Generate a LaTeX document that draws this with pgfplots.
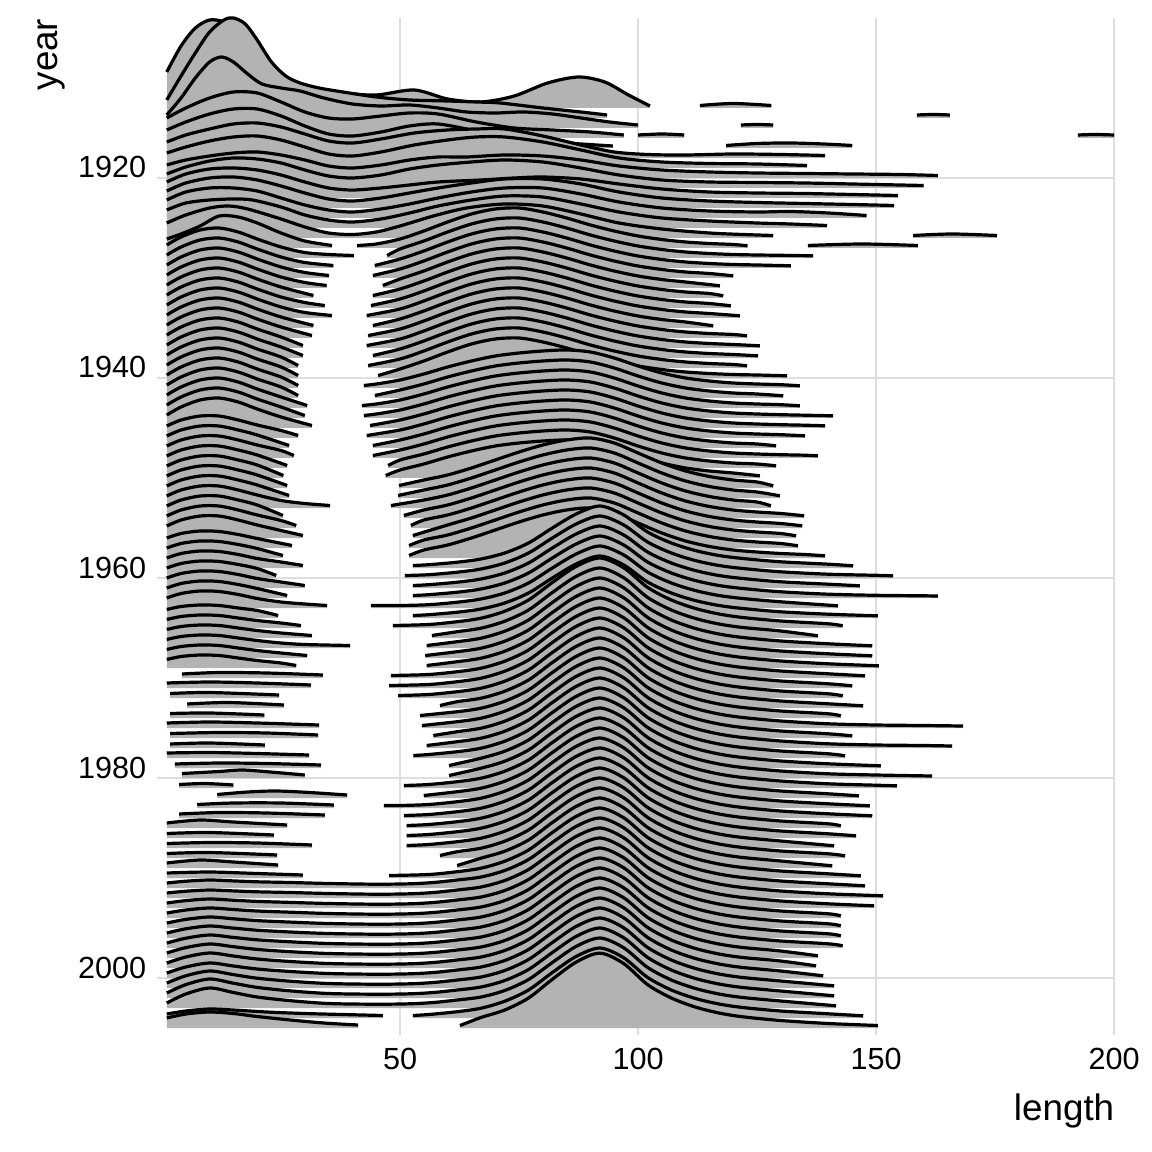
\documentclass[border=0pt]{standalone}
\usepackage{fontspec}
\setmainfont{Liberation Sans}
\usepackage{pgfplots}
\pgfplotsset{compat=1.18}
\definecolor{ridgegray}{HTML}{B3B3B3}
\definecolor{gridgray}{HTML}{DEDEDE}
% #1 = year (baseline), #2 = first length, #3 = last length, #4 = (length, height) pairs
\newcommand{\R}[4]{%
 \addplot[fill=ridgegray, draw=none, smooth, y filter/.expression={#1-y}] coordinates {#4} -- (axis cs:#3,#1) -- (axis cs:#2,#1) -- cycle;
 \addplot[black, line width=0.8pt, smooth, y filter/.expression={#1-y}] coordinates {#4};
}
\begin{document}
\begin{tikzpicture}
\begin{axis}[
  scale only axis, width=239.5pt, height=254.25pt,
  xmin=-1.05, xmax=200.2, ymin=1904, ymax=2005.7, y dir=reverse,
  clip=false,
  axis line style={draw=none},
  major tick length=0pt,
  xtick={50,100,150,200}, ytick={1920,1940,1960,1980,2000},
  xmajorgrids, ymajorgrids,
  major grid style={gridgray, line width=0.65pt},
  tick label style={font=\fontsize{7.65}{9}\selectfont},
  xticklabel style={anchor=north, inner sep=0pt, yshift=-3pt},
  yticklabel style={anchor=base east, inner sep=0pt, xshift=-2.5pt},
  /pgf/number format/assume math mode=true,
  /pgf/number format/1000 sep={},
  xlabel={length}, ylabel={year},
  every axis x label/.style={at={(axis description cs:1,0)}, anchor=north east, inner sep=0pt, yshift=-14.5pt, font=\fontsize{9.2}{11}\selectfont},
  every axis y label/.style={at={([xshift=-24.75pt]axis description cs:0,1)}, rotate=90, anchor=base east, inner sep=0pt, font=\fontsize{9.2}{11}\selectfont},
]
% ---------------- early years ----------------
\R{1913}{1}{102.5}{(1,3.6)(4,6.2)(7,8.0)(10,8.8)(13,8.6)(16,7.6)(19,6.0)(22,4.2)(25,2.8)(28,2.2)(32,1.9)(38,1.5)(45,1.3)(53,1.8)(60,0.9)(67,0.6)(74,1.2)(81,2.5)(87.5,3.1)(93,2.6)(98,1.3)(102.5,0.2)}
\R{1913}{113}{128}{(113,0.25)(120,0.45)(128,0.25)}
\R{1914}{1}{93.5}{(1,1.8)(4,4.2)(7,6.5)(10,8.6)(13,9.8)(15,10)(17.5,9.4)(20,7.8)(23,5.6)(26,4.2)(29,3.5)(33,3.0)(38,2.6)(45,2.1)(52,1.8)(60,1.7)(66,1.6)(71,1.5)(80,1.0)(88,0.6)(93.5,0.3)}
\R{1914}{158.6}{165.5}{(158.6,0.3)(162,0.35)(165.5,0.3)}
\R{1915}{1}{100}{(1,1.3)(4,3.0)(7,5.0)(10,6.6)(12.5,7.1)(15,6.6)(18,5.4)(21,4.4)(25,4.0)(29,3.7)(34,3.0)(40,2.4)(46,2.2)(52,2.3)(58,2.0)(64,1.6)(70,1.5)(76,1.6)(82,1.4)(88,1.0)(94,0.6)(100,0.3)}
\R{1915}{121.6}{128.4}{(121.6,0.3)(125,0.35)(128.4,0.3)}
\R{1916}{1}{97}{(1,2.0)(5,3.0)(10,4.0)(15,4.6)(20,4.5)(25,3.6)(30,2.6)(35,2.0)(40,1.9)(46,2.2)(52,2.5)(58,2.4)(66,1.6)(74,1.0)(82,0.8)(90,0.6)(97,0.3)}
\R{1916}{100}{109.7}{(100,0.3)(105,0.4)(109.7,0.3)}
\R{1916}{192.4}{200}{(192.4,0.3)(196,0.35)(200,0.3)}
\R{1917}{1}{94.7}{(1,1.8)(5,2.6)(10,3.4)(15,3.9)(20,3.9)(25,3.2)(30,2.2)(35,1.4)(40,1.2)(46,1.6)(52,2.2)(58,2.4)(66,1.7)(74,0.9)(82,0.6)(88,0.4)(94.7,0.2)}
\R{1917}{118.5}{145}{(118.5,0.25)(125,0.45)(132,0.5)(139,0.4)(145,0.25)}
\R{1918}{1}{139.3}{(1,1.6)(5,2.3)(10,2.9)(15,3.4)(20,3.5)(25,3.1)(30,2.4)(35,1.7)(40,1.5)(46,1.9)(53,2.5)(60,2.8)(66,2.9)(72,2.9)(80,2.2)(88,1.3)(95,0.6)(102,0.35)(110,0.3)(120,0.4)(130,0.35)(139.3,0.25)}
\R{1919}{1}{135.5}{(1,1.5)(5,2.1)(10,2.7)(15,3.1)(20,3.2)(25,2.8)(30,2.1)(35,1.4)(40,1.2)(46,1.6)(53,2.3)(60,2.8)(66,3.1)(72,3.1)(80,2.6)(88,1.8)(96,1.0)(105,0.6)(115,0.45)(125,0.4)(135.5,0.25)}
\R{1920}{1}{163}{(1,1.3)(5,1.8)(10,2.2)(15,2.5)(20,2.6)(25,2.3)(30,1.8)(35,1.2)(40,1.0)(46,1.3)(52,1.8)(58,2.1)(64,2.1)(72,2.3)(80,2.2)(88,1.8)(96,1.2)(105,0.8)(115,0.6)(125,0.5)(135,0.45)(145,0.4)(155,0.35)(163,0.25)}
\R{1921}{1}{160}{(1,1.4)(5,2.1)(10,2.7)(15,3.0)(20,2.9)(25,2.5)(30,1.8)(35,1.2)(40,1.0)(46,1.3)(52,1.9)(58,2.3)(65,2.6)(72,2.8)(80,2.6)(88,2.0)(96,1.3)(105,0.8)(115,0.6)(125,0.55)(135,0.5)(145,0.4)(160,0.25)}
\R{1922}{1}{154.6}{(1,1.6)(5,2.4)(10,2.9)(15,3.0)(20,2.8)(25,2.3)(30,1.6)(35,1.0)(40,0.8)(46,1.0)(52,1.3)(58,1.6)(67,1.8)(74,2.0)(80,2.1)(88,1.9)(96,1.4)(105,0.9)(115,0.6)(125,0.5)(135,0.45)(145,0.35)(154.6,0.25)}
\R{1923}{1}{153.8}{(1,1.7)(5,2.5)(10,3.0)(15,3.1)(20,2.8)(25,2.2)(30,1.5)(35,0.9)(40,0.7)(46,1.0)(52,1.5)(58,2.0)(65,2.5)(72,2.9)(80,2.9)(88,2.4)(96,1.6)(105,1.0)(115,0.7)(125,0.55)(135,0.45)(145,0.35)(153.8,0.25)}
\R{1924}{1}{148}{(1,1.8)(5,2.6)(10,3.0)(15,3.0)(20,2.7)(25,2.0)(30,1.3)(35,0.8)(40,0.6)(46,0.9)(52,1.4)(58,2.0)(65,2.6)(72,3.0)(80,3.0)(88,2.4)(96,1.6)(105,1.0)(115,0.7)(125,0.6)(132,0.65)(140,0.5)(148,0.25)}
\R{1925}{1}{139.7}{(1,1.8)(5,2.5)(10,2.8)(15,2.9)(19,2.8)(25,2.1)(30,1.3)(35,0.8)(40,0.6)(46,0.9)(52,1.5)(58,2.2)(65,2.8)(72,3.2)(80,3.1)(88,2.4)(96,1.6)(105,1.0)(115,0.7)(125,0.5)(132,0.4)(139.7,0.25)}
\R{1926}{1}{128.4}{(1,1.5)(5,2.3)(10,3.0)(14,3.2)(18,2.9)(25,1.9)(30,1.1)(35,0.5)(40,0.35)(45,0.6)(50,1.2)(57,2.2)(64,3.0)(72,3.4)(80,3.2)(88,2.4)(96,1.5)(105,0.9)(115,0.5)(122,0.35)(128.4,0.25)}
\R{1926}{157.8}{175.4}{(157.8,0.25)(166,0.4)(175.4,0.25)}
% ---------------- 1927-1945 ----------------
\R{1927}{1}{35.7}{(1,0.9)(4,1.4)(8,2.2)(12,3.2)(16,3.1)(20,2.5)(25,1.5)(30,0.7)(35.7,0.25)}
\R{1927}{41}{123}{(41,0.25)(45,0.4)(50,0.9)(55,1.7)(60,2.6)(65,3.4)(70,3.9)(75,4.0)(80,3.6)(85,3.0)(90,2.3)(95,1.7)(100,1.2)(105,0.85)(110,0.6)(115,0.45)(120,0.35)(123,0.22)}
\R{1927}{135.7}{158.8}{(135.7,0.25)(147,0.4)(158.8,0.25)}
\R{1928}{1}{40.3}{(1,1.3)(4,2.1)(8,2.8)(12,3.0)(16,2.6)(20,1.9)(25,1.1)(30,0.55)(35,0.35)(40.3,0.25)}
\R{1928}{47.3}{136.8}{(47.3,0.25)(50,0.9)(55,1.7)(60,2.6)(65,3.4)(70,3.9)(75,4.0)(80,3.6)(85,3.0)(90,2.3)(95,1.7)(100,1.2)(105,0.85)(110,0.6)(115,0.45)(120,0.35)(125,0.3)(130,0.27)(136.8,0.22)}
\R{1929}{1}{36}{(1,1.3)(4,2.1)(8,2.8)(12,3.0)(16,2.6)(20,1.9)(25,1.1)(30,0.55)(36,0.25)}
\R{1929}{44.7}{132.1}{(44.7,0.25)(50,0.9)(55,1.7)(60,2.6)(65,3.4)(70,3.9)(75,4.0)(80,3.6)(85,3.0)(90,2.3)(95,1.7)(100,1.2)(105,0.85)(110,0.6)(115,0.45)(120,0.35)(125,0.3)(132.1,0.22)}
\R{1930}{1}{35.1}{(1,1.3)(4,2.1)(8,2.8)(12,3.0)(16,2.6)(20,1.9)(25,1.1)(30,0.55)(35.1,0.25)}
\R{1930}{44.3}{120}{(44.3,0.25)(50,0.9)(55,1.7)(60,2.6)(65,3.4)(70,3.9)(75,4.0)(80,3.6)(85,3.0)(90,2.3)(95,1.7)(100,1.2)(105,0.85)(110,0.6)(115,0.45)(120,0.22)}
\R{1931}{1}{34.6}{(1,1.3)(4,2.1)(8,2.8)(12,3.0)(16,2.6)(20,1.9)(25,1.1)(30,0.55)(34.6,0.25)}
\R{1931}{46.4}{117.2}{(46.4,0.25)(50,0.9)(55,1.7)(60,2.6)(65,3.4)(70,3.9)(75,4.0)(80,3.6)(85,3.0)(90,2.3)(95,1.7)(100,1.2)(105,0.85)(110,0.6)(117.2,0.22)}
\R{1932}{1}{31.8}{(1,1.3)(4,2.1)(8,2.8)(12,3.0)(16,2.6)(20,1.9)(25,1.1)(31.8,0.25)}
\R{1932}{44.3}{117.9}{(44.3,0.25)(50,0.9)(55,1.7)(60,2.6)(65,3.4)(70,3.9)(75,4.0)(80,3.6)(85,3.0)(90,2.3)(95,1.7)(100,1.2)(105,0.85)(110,0.6)(115,0.45)(117.9,0.22)}
\R{1933}{1}{34.2}{(1,1.3)(4,2.1)(8,2.8)(12,3.0)(16,2.6)(20,1.9)(25,1.1)(30,0.55)(34.2,0.25)}
\R{1933}{43.9}{119.5}{(43.9,0.25)(50,0.9)(55,1.7)(60,2.6)(65,3.4)(70,3.9)(75,4.0)(80,3.6)(85,3.0)(90,2.3)(95,1.7)(100,1.2)(105,0.85)(110,0.6)(115,0.45)(119.5,0.22)}
\R{1934}{1}{35.7}{(1,1.3)(4,2.1)(8,2.8)(12,3.0)(16,2.6)(20,1.9)(25,1.1)(30,0.55)(35.7,0.25)}
\R{1934}{43}{121.4}{(43,0.25)(50,0.9)(55,1.7)(60,2.6)(65,3.4)(70,3.9)(75,4.0)(80,3.6)(85,3.0)(90,2.3)(95,1.7)(100,1.2)(105,0.85)(110,0.6)(115,0.45)(121.4,0.22)}
\R{1935}{1}{31.8}{(1,1.3)(4,2.1)(8,2.8)(12,3.0)(16,2.6)(20,1.9)(25,1.1)(31.8,0.25)}
\R{1935}{44.3}{115.8}{(44.3,0.25)(50,0.9)(55,1.7)(60,2.6)(65,3.4)(70,3.9)(75,4.0)(80,3.6)(85,3.0)(90,2.3)(95,1.7)(100,1.2)(105,0.85)(110,0.6)(115.8,0.22)}
\R{1936}{1}{31.5}{(1,1.3)(4,2.1)(8,2.8)(12,3.0)(16,2.6)(20,1.9)(25,1.1)(31.5,0.25)}
\R{1936}{43.3}{122.9}{(43.3,0.25)(50,0.9)(55,1.7)(60,2.6)(65,3.4)(70,3.9)(75,4.0)(80,3.6)(85,3.0)(90,2.3)(95,1.7)(100,1.2)(105,0.85)(110,0.6)(115,0.45)(120,0.35)(122.9,0.22)}
\R{1937}{1}{29.6}{(1,1.3)(4,2.1)(8,2.8)(12,3.0)(16,2.6)(20,1.9)(25,1.1)(29.6,0.25)}
\R{1937}{43}{125.6}{(43,0.25)(50,0.9)(55,1.7)(60,2.6)(65,3.4)(70,3.9)(75,4.0)(80,3.6)(85,3.0)(90,2.3)(95,1.7)(100,1.2)(105,0.85)(110,0.6)(115,0.45)(120,0.35)(125.6,0.22)}
\R{1938}{1}{29.6}{(1,1.3)(4,2.1)(8,2.8)(12,3.0)(16,2.6)(20,1.9)(25,1.1)(29.6,0.25)}
\R{1938}{44.3}{125.2}{(44.3,0.25)(50,0.9)(55,1.7)(60,2.6)(65,3.4)(70,3.9)(75,4.0)(80,3.6)(85,3.0)(90,2.3)(95,1.7)(100,1.2)(105,0.85)(110,0.6)(115,0.45)(120,0.35)(125.2,0.22)}
\R{1939}{1}{28.6}{(1,1.3)(4,2.1)(8,2.8)(12,3.0)(16,2.6)(20,1.9)(25,1.1)(28.6,0.25)}
\R{1939}{43.3}{122.9}{(43.3,0.25)(50,0.9)(55,1.7)(60,2.6)(65,3.4)(70,3.9)(75,4.0)(80,3.6)(85,3.0)(90,2.3)(95,1.7)(100,1.2)(105,0.85)(110,0.6)(115,0.45)(120,0.35)(122.9,0.22)}
\R{1940}{1}{28.6}{(1,1.3)(4,2.1)(8,2.8)(12,3.0)(16,2.6)(20,1.9)(25,1.1)(28.6,0.25)}
\R{1940}{45.4}{131.3}{(45.4,0.25)(50,0.9)(55,1.7)(60,2.6)(65,3.4)(70,3.9)(75,4.0)(80,3.6)(85,3.0)(90,2.3)(95,1.7)(100,1.2)(105,0.85)(110,0.6)(115,0.45)(120,0.35)(125,0.3)(131.3,0.22)}
\R{1941}{1}{28.6}{(1,1.3)(4,2.1)(8,2.8)(12,3.0)(16,2.6)(20,1.9)(25,1.1)(28.6,0.25)}
\R{1941}{42.4}{134}{(42.4,0.25)(45,0.4)(50,0.8)(55,1.4)(60,2.1)(65,2.7)(70,3.2)(75,3.5)(80,3.7)(85,3.8)(90,3.6)(95,3.0)(100,2.2)(105,1.5)(110,1.0)(115,0.7)(120,0.5)(125,0.4)(130,0.33)(134,0.22)}
\R{1942}{1}{28.6}{(1,1.3)(4,2.1)(8,2.8)(12,3.0)(16,2.6)(20,1.9)(25,1.1)(28.6,0.25)}
\R{1942}{44.7}{130.5}{(44.7,0.25)(50,0.8)(55,1.4)(60,2.1)(65,2.7)(70,3.2)(75,3.5)(80,3.7)(85,3.8)(90,3.6)(95,3.0)(100,2.2)(105,1.5)(110,1.0)(115,0.7)(120,0.5)(125,0.4)(130.5,0.22)}
\R{1943}{1}{30.5}{(1,1.3)(4,2.1)(8,2.8)(12,3.0)(16,2.6)(20,1.9)(25,1.1)(30.5,0.25)}
\R{1943}{42}{134}{(42,0.25)(45,0.4)(50,0.8)(55,1.4)(60,2.1)(65,2.7)(70,3.2)(75,3.5)(80,3.7)(85,3.8)(90,3.6)(95,3.0)(100,2.2)(105,1.5)(110,1.0)(115,0.7)(120,0.5)(125,0.4)(130,0.33)(134,0.22)}
\R{1944}{1}{30}{(1,1.3)(4,2.1)(8,2.8)(12,3.0)(16,2.6)(20,1.9)(25,1.1)(30,0.25)}
\R{1944}{42.4}{141}{(42.4,0.25)(45,0.4)(50,0.8)(55,1.4)(60,2.1)(65,2.7)(70,3.2)(75,3.5)(80,3.7)(85,3.8)(90,3.6)(95,3.0)(100,2.2)(105,1.5)(110,1.0)(115,0.7)(120,0.5)(125,0.4)(130,0.33)(135,0.28)(141,0.22)}
\R{1945}{1}{31.5}{(1,1.3)(4,2.1)(8,2.8)(12,3.0)(16,2.6)(20,1.9)(25,1.1)(31.5,0.25)}
\R{1945}{43.7}{139.3}{(43.7,0.25)(50,0.8)(55,1.4)(60,2.1)(65,2.7)(70,3.2)(75,3.5)(80,3.7)(85,3.8)(90,3.6)(95,3.0)(100,2.2)(105,1.5)(110,1.0)(115,0.7)(120,0.5)(125,0.4)(130,0.33)(135,0.28)(139.3,0.22)}
% ---------------- 1946-1958 ----------------
\R{1946}{1}{28.6}{(1,1.2)(4,1.8)(8,2.2)(12,2.2)(16,1.8)(20,1.3)(25,0.75)(28.6,0.25)}
\R{1946}{43}{135.1}{(43,0.25)(50,0.8)(55,1.4)(60,2.1)(65,2.7)(70,3.2)(75,3.5)(80,3.7)(85,3.8)(90,3.6)(95,3.0)(100,2.2)(105,1.5)(110,1.0)(115,0.7)(120,0.5)(125,0.4)(130,0.33)(135.1,0.22)}
\R{1947}{1}{26.7}{(1,1.2)(4,1.8)(8,2.2)(12,2.2)(16,1.8)(20,1.3)(26.7,0.25)}
\R{1947}{44.3}{129}{(44.3,0.25)(50,0.8)(55,1.4)(60,2.1)(65,2.7)(70,3.2)(75,3.5)(80,3.7)(85,3.8)(90,3.6)(95,3.0)(100,2.2)(105,1.5)(110,1.0)(115,0.7)(120,0.5)(125,0.4)(129,0.22)}
\R{1948}{1}{27.7}{(1,1.2)(4,1.8)(8,2.2)(12,2.2)(16,1.8)(20,1.3)(25,0.75)(27.7,0.25)}
\R{1948}{44.3}{137.8}{(44.3,0.25)(50,0.8)(55,1.4)(60,2.1)(65,2.7)(70,3.2)(75,3.5)(80,3.7)(85,3.8)(90,3.6)(95,3.0)(100,2.2)(105,1.5)(110,1.0)(115,0.7)(120,0.5)(125,0.4)(130,0.33)(135,0.28)(137.8,0.22)}
\R{1949}{1}{26.3}{(1,1.2)(4,1.8)(8,2.2)(12,2.2)(16,1.8)(20,1.3)(26.3,0.25)}
\R{1949}{47.5}{129}{(47.5,0.25)(50,0.8)(55,1.4)(60,2.1)(65,2.7)(70,3.2)(75,3.5)(80,3.7)(85,3.8)(90,3.6)(95,3.0)(100,2.2)(105,1.5)(110,1.0)(115,0.7)(120,0.5)(125,0.4)(129,0.22)}
\R{1950}{1}{25.5}{(1,1.2)(4,1.8)(8,2.2)(12,2.2)(16,1.8)(20,1.3)(25.5,0.25)}
\R{1950}{47}{125.6}{(47,0.25)(50,0.8)(55,1.4)(60,2.1)(65,2.7)(70,3.2)(75,3.5)(80,3.7)(85,3.8)(90,3.6)(95,3.0)(100,2.2)(105,1.5)(110,1.0)(115,0.7)(120,0.5)(125.6,0.22)}
\R{1951}{1}{26.3}{(1,1.2)(4,1.8)(8,2.2)(12,2.2)(16,1.8)(20,1.3)(26.3,0.25)}
\R{1951}{49.8}{128.4}{(49.8,0.25)(55,0.8)(60,1.3)(65,2.0)(70,2.8)(75,3.6)(80,4.3)(85,4.8)(90,5.0)(95,4.5)(100,3.5)(105,2.5)(110,1.7)(115,1.15)(120,0.8)(125,0.6)(128.4,0.22)}
\R{1952}{1}{26.7}{(1,1.2)(4,1.8)(8,2.2)(12,2.2)(16,1.8)(20,1.3)(26.7,0.25)}
\R{1952}{49.6}{129.8}{(49.6,0.25)(55,0.8)(60,1.3)(65,2.0)(70,2.8)(75,3.6)(80,4.3)(85,4.8)(90,5.0)(95,4.5)(100,3.5)(105,2.5)(110,1.7)(115,1.15)(120,0.8)(125,0.6)(129.8,0.22)}
\R{1953}{1}{35.3}{(1,1.2)(4,1.8)(8,2.2)(12,2.2)(16,1.8)(20,1.3)(25,0.75)(30,0.45)(35.3,0.25)}
\R{1953}{48.1}{127.9}{(48.1,0.25)(55,0.8)(60,1.3)(65,2.0)(70,2.8)(75,3.6)(80,4.3)(85,4.8)(90,5.0)(95,4.5)(100,3.5)(105,2.5)(110,1.7)(115,1.15)(120,0.8)(125,0.6)(127.9,0.22)}
\R{1954}{1}{25.4}{(1,1.2)(4,1.8)(8,2.2)(12,2.2)(16,1.8)(20,1.3)(25.4,0.25)}
\R{1954}{50.8}{134.9}{(50.8,0.25)(55,0.8)(60,1.3)(65,2.0)(70,2.8)(75,3.6)(80,4.3)(85,4.8)(90,5.0)(95,4.5)(100,3.5)(105,2.5)(110,1.7)(115,1.15)(120,0.8)(125,0.6)(130,0.45)(134.9,0.22)}
\R{1955}{1}{28.2}{(1,1.2)(4,1.8)(8,2.2)(12,2.2)(16,1.8)(20,1.3)(25,0.75)(28.2,0.25)}
\R{1955}{52.3}{134.5}{(52.3,0.25)(55,0.8)(60,1.3)(65,2.0)(70,2.8)(75,3.6)(80,4.3)(85,4.8)(90,5.0)(95,4.5)(100,3.5)(105,2.5)(110,1.7)(115,1.15)(120,0.8)(125,0.6)(130,0.45)(134.5,0.22)}
\R{1956}{1}{29.6}{(1,1.2)(4,1.8)(8,2.2)(12,2.2)(16,1.8)(20,1.3)(25,0.75)(29.6,0.25)}
\R{1956}{52.7}{133.2}{(52.7,0.25)(60,1.3)(65,2.0)(70,2.8)(75,3.6)(80,4.3)(85,4.8)(90,5.0)(95,4.5)(100,3.5)(105,2.5)(110,1.7)(115,1.15)(120,0.8)(125,0.6)(130,0.45)(133.2,0.22)}
\R{1957}{1}{27.3}{(1,1.0)(4,1.45)(8,1.7)(12,1.65)(16,1.35)(20,0.95)(27.3,0.25)}
\R{1957}{51.9}{133.6}{(51.9,0.25)(55,0.8)(60,1.3)(65,2.0)(70,2.8)(75,3.6)(80,4.3)(85,4.8)(90,5.0)(95,4.5)(100,3.5)(105,2.5)(110,1.7)(115,1.15)(120,0.8)(125,0.6)(130,0.45)(133.6,0.22)}
\R{1958}{1}{25.4}{(1,1.0)(4,1.45)(8,1.7)(12,1.65)(16,1.35)(20,0.95)(25.4,0.25)}
\R{1958}{51.9}{139.3}{(51.9,0.25)(55,0.8)(60,1.3)(65,2.0)(70,2.8)(75,3.6)(80,4.3)(85,4.8)(90,5.0)(95,4.5)(100,3.5)(105,2.5)(110,1.7)(115,1.15)(120,0.8)(125,0.6)(130,0.45)(135,0.35)(139.3,0.22)}
% ---------------- 1959-1969 ----------------
\R{1959}{1}{29.6}{(1,1.0)(4,1.45)(8,1.7)(12,1.65)(16,1.35)(20,0.95)(25,0.6)(29.6,0.25)}
\R{1959}{52.7}{145.2}{(52.7,0.25)(56,0.33)(62,0.58)(67,0.9)(72,1.5)(77,2.5)(82,4.0)(87,5.4)(92,6.2)(97,5.3)(102,3.6)(107,2.5)(112,1.75)(117,1.25)(122,0.95)(130,0.62)(140,0.38)(145.2,0.22)}
\R{1960}{1}{24}{(1,1.0)(4,1.45)(8,1.7)(12,1.65)(16,1.35)(20,0.95)(24,0.25)}
\R{1960}{51}{153.6}{(51,0.25)(56,0.33)(62,0.58)(67,0.9)(72,1.5)(77,2.5)(82,4.0)(87,5.4)(92,6.2)(97,5.3)(102,3.6)(107,2.5)(112,1.75)(117,1.25)(122,0.95)(130,0.62)(140,0.38)(150,0.27)(153.6,0.22)}
\R{1961}{1}{30}{(1,1.0)(4,1.45)(8,1.7)(12,1.65)(16,1.35)(20,0.95)(25,0.6)(30,0.25)}
\R{1961}{52.7}{146.6}{(52.7,0.25)(56,0.33)(62,0.58)(67,0.9)(72,1.5)(77,2.5)(82,4.0)(87,5.4)(92,6.2)(97,5.3)(102,3.6)(107,2.5)(112,1.75)(117,1.25)(122,0.95)(130,0.62)(140,0.38)(146.6,0.22)}
\R{1962}{1}{26.3}{(1,1.0)(4,1.45)(8,1.7)(12,1.65)(16,1.35)(20,0.95)(26.3,0.25)}
\R{1962}{52.7}{163}{(52.7,0.25)(56,0.33)(62,0.58)(67,0.9)(72,1.5)(77,2.5)(82,4.0)(87,5.4)(92,6.2)(97,5.3)(102,3.6)(107,2.5)(112,1.75)(117,1.25)(122,0.95)(130,0.62)(140,0.38)(150,0.27)(160,0.22)(163,0.2)}
\R{1963}{1}{34.7}{(1,1.0)(4,1.45)(8,1.7)(12,1.65)(16,1.35)(20,0.95)(25,0.6)(30,0.4)(34.7,0.25)}
\R{1963}{43.9}{142}{(43.9,0.25)(50,0.25)(56,0.33)(62,0.58)(67,0.9)(72,1.5)(77,2.5)(82,4.0)(87,5.4)(92,6.2)(97,5.3)(102,3.6)(107,2.5)(112,1.75)(117,1.25)(122,0.95)(130,0.62)(142,0.22)}
\R{1964}{1}{24.4}{(1,0.85)(4,1.15)(8,1.3)(12,1.25)(16,1.0)(20,0.75)(24.4,0.25)}
\R{1964}{52.7}{150.4}{(52.7,0.25)(56,0.33)(62,0.58)(67,0.9)(72,1.5)(77,2.5)(82,4.0)(87,5.4)(92,6.2)(97,5.3)(102,3.6)(107,2.5)(112,1.75)(117,1.25)(122,0.95)(130,0.62)(140,0.38)(150.4,0.22)}
\R{1965}{1}{29.2}{(1,0.85)(4,1.15)(8,1.3)(12,1.25)(16,1.0)(20,0.75)(25,0.5)(29.2,0.25)}
\R{1965}{48.5}{143}{(48.5,0.25)(56,0.35)(62,0.63)(67,0.98)(72,1.68)(77,2.8)(82,4.55)(87,6.16)(92,7.0)(97,6.02)(102,4.06)(107,2.8)(112,1.96)(117,1.4)(122,1.05)(130,0.7)(140,0.42)(143,0.22)}
\R{1966}{1}{31.5}{(1,0.85)(4,1.15)(8,1.3)(12,1.25)(16,1.0)(20,0.75)(25,0.5)(31.5,0.25)}
\R{1966}{56.7}{137.8}{(56.7,0.25)(62,0.63)(67,0.98)(72,1.68)(77,2.8)(82,4.55)(87,6.16)(92,7.0)(97,6.02)(102,4.06)(107,2.8)(112,1.96)(117,1.4)(122,1.05)(130,0.7)(137.8,0.22)}
\R{1967}{1}{39.5}{(1,0.85)(4,1.15)(8,1.3)(12,1.25)(16,1.0)(20,0.75)(25,0.5)(30,0.35)(39.5,0.25)}
\R{1967}{55.6}{149.2}{(55.6,0.25)(62,0.63)(67,0.98)(72,1.68)(77,2.8)(82,4.55)(87,6.16)(92,7.0)(97,6.02)(102,4.06)(107,2.8)(112,1.96)(117,1.4)(122,1.05)(130,0.7)(140,0.42)(149.2,0.22)}
\R{1968}{1}{30.5}{(1,0.85)(4,1.15)(8,1.3)(12,1.25)(16,1.0)(20,0.75)(25,0.5)(30.5,0.25)}
\R{1968}{55.3}{149.2}{(55.3,0.25)(62,0.63)(67,0.98)(72,1.68)(77,2.8)(82,4.55)(87,6.16)(92,7.0)(97,6.02)(102,4.06)(107,2.8)(112,1.96)(117,1.4)(122,1.05)(130,0.7)(140,0.42)(149.2,0.22)}
\R{1969}{1}{28.2}{(1,0.85)(4,1.15)(8,1.3)(12,1.25)(16,1.0)(20,0.75)(25,0.5)(28.2,0.25)}
\R{1969}{55.6}{150.6}{(55.6,0.25)(62,0.63)(67,0.98)(72,1.68)(77,2.8)(82,4.55)(87,6.16)(92,7.0)(97,6.02)(102,4.06)(107,2.8)(112,1.96)(117,1.4)(122,1.05)(130,0.7)(140,0.42)(150.6,0.22)}
% ---------------- 1970-1990 ----------------
\R{1970}{4.2}{33.8}{(4.2,0.4)(12,0.55)(22,0.5)(33.8,0.3)}
\R{1970}{48.1}{147.7}{(48.1,0.25)(56,0.35)(62,0.63)(67,0.98)(72,1.68)(77,2.8)(82,4.55)(87,6.16)(92,7.0)(97,6.02)(102,4.06)(107,2.8)(112,1.96)(117,1.4)(122,1.05)(130,0.7)(140,0.42)(147.7,0.22)}
\R{1971}{1}{31.3}{(1,0.5)(10,0.6)(20,0.5)(31.3,0.3)}
\R{1971}{47.7}{145}{(47.7,0.25)(56,0.35)(62,0.63)(67,0.98)(72,1.68)(77,2.8)(82,4.55)(87,6.16)(92,7.0)(97,6.02)(102,4.06)(107,2.8)(112,1.96)(117,1.4)(122,1.05)(130,0.7)(140,0.42)(145,0.22)}
\R{1972}{1.7}{24.6}{(1.7,0.45)(10,0.55)(24.6,0.3)}
\R{1972}{49.6}{143}{(49.6,0.25)(56,0.35)(62,0.63)(67,0.98)(72,1.68)(77,2.8)(82,4.55)(87,6.16)(92,7.0)(97,6.02)(102,4.06)(107,2.8)(112,1.96)(117,1.4)(122,1.05)(130,0.7)(140,0.42)(143,0.22)}
\R{1973}{5.3}{25.6}{(5.3,0.4)(14,0.55)(25.6,0.3)}
\R{1973}{58.4}{147.3}{(58.4,0.25)(62,0.63)(67,0.98)(72,1.68)(77,2.8)(82,4.55)(87,6.16)(92,7.0)(97,6.02)(102,4.06)(107,2.8)(112,1.96)(117,1.4)(122,1.05)(130,0.7)(140,0.42)(147.3,0.22)}
\R{1974}{1.7}{21.5}{(1.7,0.45)(10,0.5)(21.5,0.3)}
\R{1974}{54.2}{142.6}{(54.2,0.25)(62,0.63)(67,0.98)(72,1.68)(77,2.8)(82,4.55)(87,6.16)(92,7.0)(97,6.02)(102,4.06)(107,2.8)(112,1.96)(117,1.4)(122,1.05)(130,0.7)(140,0.42)(142.6,0.22)}
\R{1975}{1}{33}{(1,0.5)(10,0.6)(20,0.5)(33,0.3)}
\R{1975}{54.6}{168.3}{(54.6,0.25)(62,0.63)(67,0.98)(72,1.68)(77,2.8)(82,4.55)(87,6.16)(92,7.0)(97,6.02)(102,4.06)(107,2.8)(112,1.96)(117,1.4)(122,1.05)(130,0.7)(140,0.42)(150,0.3)(160,0.25)(168.3,0.2)}
\R{1976}{1.7}{32.8}{(1.7,0.45)(12,0.55)(22,0.5)(32.8,0.3)}
\R{1976}{57}{145}{(57,0.25)(62,0.63)(67,0.98)(72,1.68)(77,2.8)(82,4.55)(87,6.16)(92,7.0)(97,6.02)(102,4.06)(107,2.8)(112,1.96)(117,1.4)(122,1.05)(130,0.7)(140,0.42)(145,0.22)}
\R{1977}{1.7}{21.6}{(1.7,0.4)(10,0.5)(21.6,0.3)}
\R{1977}{55.6}{166}{(55.6,0.25)(62,0.63)(67,0.98)(72,1.68)(77,2.8)(82,4.55)(87,6.16)(92,7.0)(97,6.02)(102,4.06)(107,2.8)(112,1.96)(117,1.4)(122,1.05)(130,0.7)(140,0.42)(150,0.3)(160,0.25)(166,0.2)}
\R{1978}{1}{30.9}{(1,0.5)(10,0.55)(20,0.45)(30.9,0.3)}
\R{1978}{52.8}{143.5}{(52.8,0.25)(56,0.35)(62,0.63)(67,0.98)(72,1.68)(77,2.8)(82,4.55)(87,6.16)(92,7.0)(97,6.02)(102,4.06)(107,2.8)(112,1.96)(117,1.4)(122,1.05)(130,0.7)(140,0.42)(143.5,0.22)}
\R{1979}{2.7}{33.4}{(2.7,0.4)(12,0.5)(22,0.45)(33.4,0.3)}
\R{1979}{60.3}{151}{(60.3,0.25)(67,0.98)(72,1.68)(77,2.8)(82,4.55)(87,6.16)(92,7.0)(97,6.02)(102,4.06)(107,2.8)(112,1.96)(117,1.4)(122,1.05)(130,0.7)(140,0.42)(151,0.22)}
\R{1980}{4.2}{30}{(4.2,0.45)(12,0.65)(17,0.8)(24,0.55)(30,0.3)}
\R{1980}{60.3}{161.8}{(60.3,0.25)(67,0.98)(72,1.68)(77,2.8)(82,4.55)(87,6.16)(92,7.0)(97,6.02)(102,4.06)(107,2.8)(112,1.96)(117,1.4)(122,1.05)(130,0.7)(140,0.42)(150,0.3)(161.8,0.2)}
\R{1981}{3.6}{15}{(3.6,0.35)(9,0.45)(15,0.3)}
\R{1981}{50.8}{154.4}{(50.8,0.25)(56,0.35)(62,0.63)(67,0.98)(72,1.68)(77,2.8)(82,4.55)(87,6.16)(92,7.0)(97,6.02)(102,4.06)(107,2.8)(112,1.96)(117,1.4)(122,1.05)(130,0.7)(140,0.42)(150,0.28)(154.4,0.22)}
\R{1982}{11.6}{38.9}{(11.6,0.35)(18,0.6)(24,0.7)(31,0.55)(38.9,0.3)}
\R{1982}{55}{146.4}{(55,0.25)(62,0.63)(67,0.98)(72,1.68)(77,2.8)(82,4.55)(87,6.16)(92,7.0)(97,6.02)(102,4.06)(107,2.8)(112,1.96)(117,1.4)(122,1.05)(130,0.7)(140,0.42)(146.4,0.22)}
\R{1983}{7.4}{36.1}{(7.4,0.35)(15,0.5)(25,0.5)(36.1,0.3)}
\R{1983}{46.6}{148.7}{(46.6,0.25)(50,0.25)(56,0.35)(62,0.63)(67,0.98)(72,1.68)(77,2.8)(82,4.55)(87,6.16)(92,7.0)(97,6.02)(102,4.06)(107,2.8)(112,1.96)(117,1.4)(122,1.05)(130,0.7)(140,0.42)(148.7,0.22)}
\R{1984}{3.6}{34.2}{(3.6,0.4)(12,0.55)(22,0.5)(34.2,0.3)}
\R{1984}{50.8}{149.2}{(50.8,0.25)(56,0.35)(62,0.63)(67,0.98)(72,1.68)(77,2.8)(82,4.55)(87,6.16)(92,7.0)(97,6.02)(102,4.06)(107,2.8)(112,1.96)(117,1.4)(122,1.05)(130,0.7)(140,0.42)(149.2,0.22)}
\R{1985}{1}{26.3}{(1,0.5)(8,0.8)(15,0.6)(26.3,0.3)}
\R{1985}{51.4}{142.6}{(51.4,0.25)(56,0.35)(62,0.63)(67,0.98)(72,1.68)(77,2.8)(82,4.55)(87,6.16)(92,7.0)(97,6.02)(102,4.06)(107,2.8)(112,1.96)(117,1.4)(122,1.05)(130,0.7)(140,0.42)(142.6,0.22)}
\R{1986}{1}{23.5}{(1,0.45)(10,0.55)(23.5,0.3)}
\R{1986}{51.4}{145.8}{(51.4,0.25)(56,0.35)(62,0.63)(67,0.98)(72,1.68)(77,2.8)(82,4.55)(87,6.16)(92,7.0)(97,6.02)(102,4.06)(107,2.8)(112,1.96)(117,1.4)(122,1.05)(130,0.7)(140,0.42)(145.8,0.22)}
\R{1987}{1}{31.5}{(1,0.45)(10,0.55)(20,0.5)(31.5,0.3)}
\R{1987}{51.4}{141.2}{(51.4,0.25)(56,0.35)(62,0.63)(67,0.98)(72,1.68)(77,2.8)(82,4.55)(87,6.16)(92,7.0)(97,6.02)(102,4.06)(107,2.8)(112,1.96)(117,1.4)(122,1.05)(130,0.7)(141.2,0.22)}
\R{1988}{1}{24.2}{(1,0.45)(10,0.55)(24.2,0.3)}
\R{1988}{58.4}{143.5}{(58.4,0.25)(62,0.63)(67,0.98)(72,1.68)(77,2.8)(82,4.55)(87,6.16)(92,7.0)(97,6.02)(102,4.06)(107,2.8)(112,1.96)(117,1.4)(122,1.05)(130,0.7)(140,0.42)(143.5,0.22)}
\R{1989}{1}{24.4}{(1,0.5)(8,0.8)(15,0.6)(24.4,0.3)}
\R{1989}{62}{140.8}{(62,0.25)(67,0.98)(72,1.68)(77,2.8)(82,4.55)(87,6.16)(92,7.0)(97,6.02)(102,4.06)(107,2.8)(112,1.96)(117,1.4)(122,1.05)(130,0.7)(140.8,0.22)}
\R{1990}{1}{29.6}{(1,0.5)(10,0.6)(20,0.45)(29.6,0.3)}
\R{1990}{47.7}{146.8}{(47.7,0.25)(56,0.35)(62,0.63)(67,0.98)(72,1.68)(77,2.8)(82,4.55)(87,6.16)(92,7.0)(97,6.02)(102,4.06)(107,2.8)(112,1.96)(117,1.4)(122,1.05)(130,0.7)(140,0.42)(146.8,0.22)}
% ---------------- 1991-2005 ----------------
\R{1991}{1}{147.7}{(1,0.5)(5,0.68)(10,0.8)(15,0.71)(20,0.62)(27,0.55)(35,0.45)(45,0.38)(52,0.42)(57,0.55)(62,0.8)(67,1.1)(72,1.75)(77,2.85)(82,4.55)(87,6.16)(92,7.0)(97,6.02)(102,4.06)(107,2.8)(112,1.96)(117,1.4)(122,1.05)(130,0.7)(140,0.42)(147.7,0.22)}
\R{1992}{1}{151.5}{(1,0.5)(5,0.68)(10,0.8)(15,0.71)(20,0.62)(27,0.55)(35,0.45)(45,0.38)(52,0.42)(57,0.55)(62,0.8)(67,1.1)(72,1.75)(77,2.85)(82,4.55)(87,6.16)(92,7.0)(97,6.02)(102,4.06)(107,2.8)(112,1.96)(117,1.4)(122,1.05)(130,0.7)(140,0.42)(151.5,0.22)}
\R{1993}{1}{149.6}{(1,0.5)(5,0.74)(10,0.9)(15,0.78)(20,0.66)(27,0.56)(35,0.45)(45,0.38)(52,0.42)(57,0.55)(62,0.8)(67,1.1)(72,1.75)(77,2.85)(82,4.55)(87,6.16)(92,7.0)(97,6.02)(102,4.06)(107,2.8)(112,1.96)(117,1.4)(122,1.05)(130,0.7)(140,0.42)(149.6,0.22)}
\R{1994}{1}{142.6}{(1,0.5)(5,0.8)(10,1.0)(15,0.85)(20,0.7)(27,0.58)(35,0.45)(45,0.38)(52,0.42)(57,0.55)(62,0.8)(67,1.1)(72,1.75)(77,2.85)(82,4.55)(87,6.16)(92,7.0)(97,6.02)(102,4.06)(107,2.8)(112,1.96)(117,1.4)(122,1.05)(130,0.7)(140,0.42)(142.6,0.22)}
\R{1995}{1}{142.6}{(1,0.5)(5,0.86)(10,1.1)(15,0.92)(20,0.74)(27,0.59)(35,0.45)(45,0.38)(52,0.42)(57,0.55)(62,0.8)(67,1.1)(72,1.75)(77,2.85)(82,4.55)(87,6.16)(92,7.0)(97,6.02)(102,4.06)(107,2.8)(112,1.96)(117,1.4)(122,1.05)(130,0.7)(140,0.42)(142.6,0.22)}
\R{1996}{1}{142.6}{(1,0.5)(5,0.92)(10,1.2)(15,0.99)(20,0.78)(27,0.6)(35,0.45)(45,0.38)(52,0.42)(57,0.55)(62,0.8)(67,1.1)(72,1.75)(77,2.85)(82,4.55)(87,6.16)(92,7.0)(97,6.02)(102,4.06)(107,2.8)(112,1.96)(117,1.4)(122,1.05)(130,0.7)(140,0.42)(142.6,0.22)}
\R{1997}{1}{143}{(1,0.5)(5,0.98)(10,1.3)(15,1.06)(20,0.82)(27,0.62)(35,0.45)(45,0.38)(52,0.42)(57,0.55)(62,0.8)(67,1.1)(72,1.75)(77,2.85)(82,4.55)(87,6.16)(92,7.0)(97,6.02)(102,4.06)(107,2.8)(112,1.96)(117,1.4)(122,1.05)(130,0.7)(140,0.42)(143,0.22)}
\R{1998}{1}{137.8}{(1,0.5)(5,1.04)(10,1.4)(15,1.13)(20,0.86)(27,0.63)(35,0.45)(45,0.38)(52,0.42)(57,0.55)(62,0.8)(67,1.1)(72,1.75)(77,2.85)(82,4.55)(87,6.16)(92,7.0)(97,6.02)(102,4.06)(107,2.8)(112,1.96)(117,1.4)(122,1.05)(130,0.7)(137.8,0.22)}
\R{1999}{1}{137.4}{(1,0.5)(5,1.1)(10,1.5)(15,1.2)(20,0.9)(27,0.65)(35,0.45)(45,0.38)(52,0.42)(57,0.55)(62,0.8)(67,1.1)(72,1.75)(77,2.85)(82,4.55)(87,6.16)(92,7.0)(97,6.02)(102,4.06)(107,2.8)(112,1.96)(117,1.4)(122,1.05)(130,0.7)(137.4,0.22)}
\R{2000}{1}{138.9}{(1,0.5)(5,1.1)(10,1.5)(15,1.2)(20,0.9)(27,0.65)(35,0.45)(45,0.38)(52,0.42)(57,0.55)(62,0.8)(67,1.1)(72,1.75)(77,2.85)(82,4.55)(87,6.16)(92,7.0)(97,6.02)(102,4.06)(107,2.8)(112,1.96)(117,1.4)(122,1.05)(130,0.7)(138.9,0.22)}
\R{2001}{1}{141.2}{(1,0.5)(5,1.22)(10,1.7)(15,1.34)(20,0.98)(27,0.68)(35,0.45)(45,0.38)(52,0.42)(57,0.55)(62,0.8)(67,1.1)(72,1.75)(77,2.85)(82,4.55)(87,6.16)(92,7.0)(97,6.02)(102,4.06)(107,2.8)(112,1.96)(117,1.4)(122,1.05)(130,0.7)(141.2,0.22)}
\R{2002}{1}{141.2}{(1,0.5)(5,1.34)(10,1.9)(15,1.48)(20,1.06)(27,0.71)(35,0.45)(45,0.38)(52,0.42)(57,0.55)(62,0.8)(67,1.1)(72,1.75)(77,2.85)(82,4.55)(87,6.16)(92,7.0)(97,6.02)(102,4.06)(107,2.8)(112,1.96)(117,1.4)(122,1.05)(130,0.7)(141.2,0.22)}
\R{2003}{1}{141.6}{(1,0.5)(5,1.4)(10,2.0)(15,1.55)(20,1.1)(27,0.73)(35,0.45)(45,0.38)(52,0.42)(57,0.55)(62,0.8)(67,1.1)(72,1.75)(77,2.85)(82,4.55)(87,6.16)(92,7.0)(97,6.02)(102,4.06)(107,2.8)(112,1.96)(117,1.4)(122,1.05)(130,0.7)(141.6,0.22)}
\R{2004}{1}{46.4}{(1,0.4)(5,0.7)(10,0.9)(15,0.8)(22,0.6)(30,0.45)(38,0.35)(46.4,0.25)}
\R{2004}{52.7}{147.3}{(52.7,0.25)(56,0.35)(62,0.63)(67,0.98)(72,1.68)(77,2.8)(82,4.55)(87,6.16)(92,7.0)(97,6.02)(102,4.06)(107,2.8)(112,1.96)(117,1.4)(122,1.05)(130,0.7)(140,0.42)(147.3,0.22)}
\R{2005}{1}{41.2}{(1,1.0)(5,1.4)(10,1.6)(15,1.45)(20,1.15)(27,0.8)(34,0.5)(41.2,0.3)}
\R{2005}{62.6}{150.4}{(62.6,0.25)(67,1.05)(72,1.8)(77,3.0)(82,4.87)(87,6.59)(92,7.49)(97,6.44)(102,4.34)(107,3.0)(112,2.1)(117,1.5)(122,1.12)(130,0.75)(140,0.45)(150.4,0.25)}
\end{axis}
\pgfresetboundingbox
\path[use as bounding box] (-39.25pt,-29.25pt) rectangle (248.75pt,258.75pt);
\end{tikzpicture}
\end{document}
